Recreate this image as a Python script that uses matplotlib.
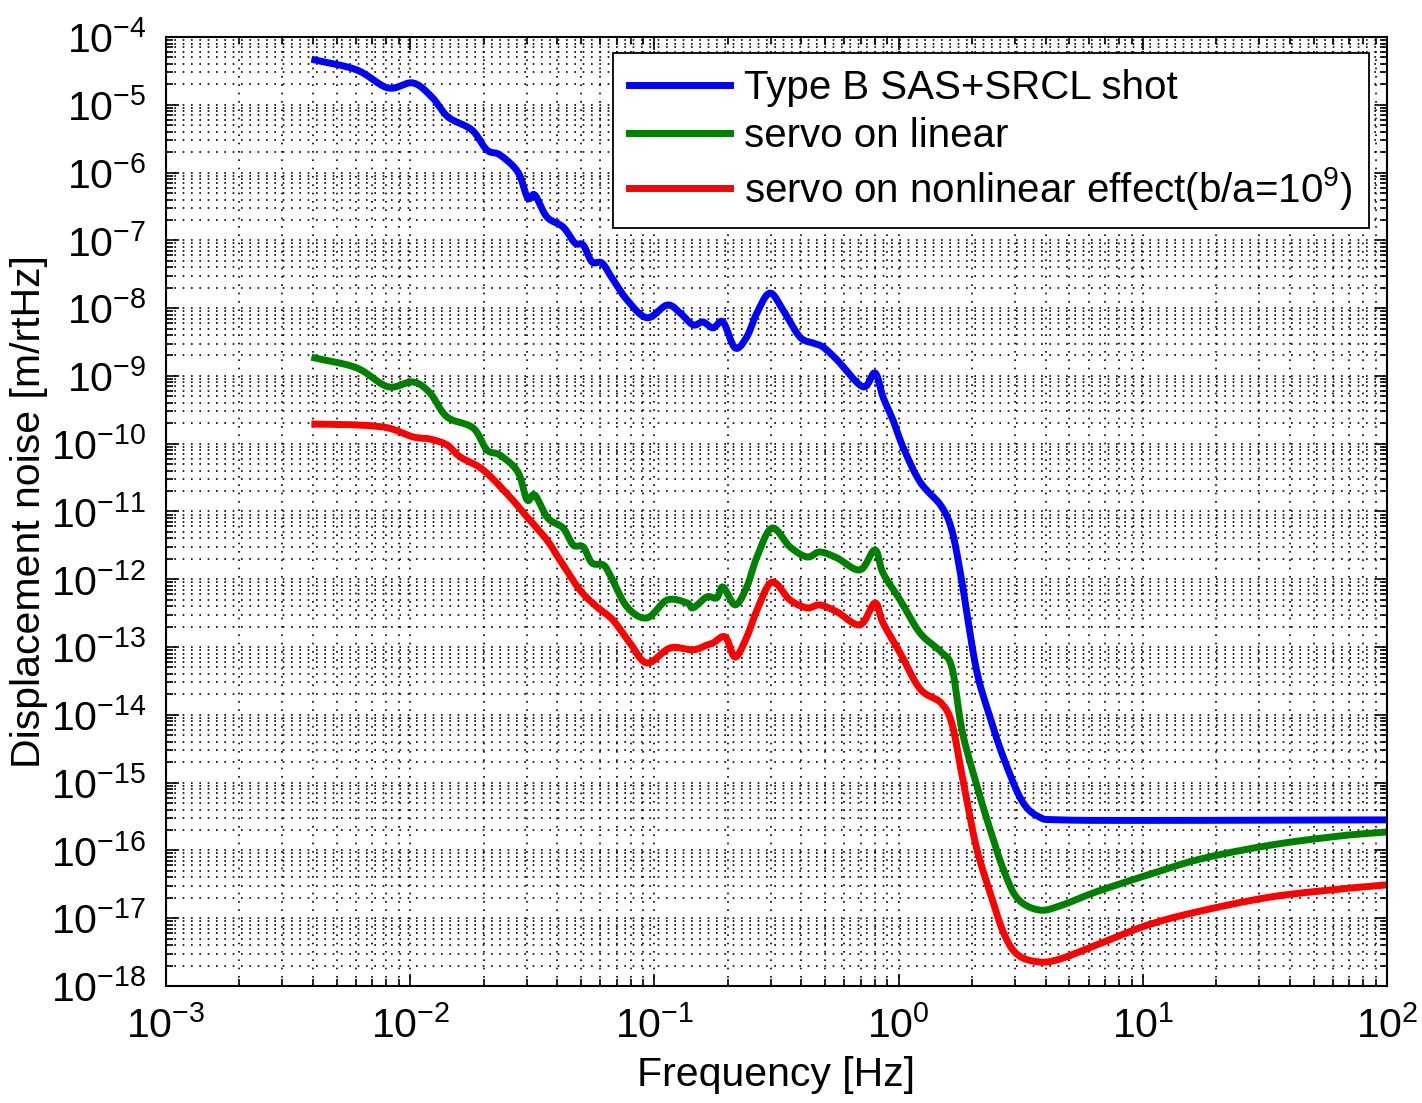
import numpy as np
import matplotlib
matplotlib.use('Agg')
import matplotlib.pyplot as plt
from matplotlib.ticker import LogLocator, NullFormatter

# values (Hz, m/rtHz)
freq_shot = [0.00407, 0.00605, 0.00811, 0.01026, 0.01227, 0.01429, 0.0179, 0.0206, 0.0233,
             0.0276, 0.0303, 0.0324, 0.0363, 0.0423, 0.0473, 0.0511, 0.0555, 0.0610, 0.0670,
             0.0773, 0.0933, 0.1127, 0.1274, 0.144, 0.158, 0.174, 0.191, 0.214, 0.239, 0.263,
             0.297, 0.336, 0.394, 0.446, 0.490, 0.560, 0.714, 0.800, 0.863, 0.948, 1.042,
             1.224, 1.492, 1.655, 1.820, 2.076, 2.366, 2.70, 3.20, 3.76, 4.58, 10.7, 100.0]
noise_shot = [4.58e-5, 3.26e-5, 1.77e-5, 2.10e-5, 1.30e-5, 6.6e-6, 4.25e-6, 2.15e-6, 1.82e-6,
              1.02e-6, 4.2e-7, 4.67e-7, 2.21e-7, 1.57e-7, 9.1e-8, 8.55e-8, 4.8e-8, 4.63e-8, 2.79e-8,
              1.32e-8, 7.2e-9, 1.11e-8, 8.5e-9, 5.65e-9, 6.25e-9, 5.1e-9, 6.25e-9, 2.58e-9, 3.76e-9, 8.5e-9,
              1.67e-8, 9.4e-9, 3.76e-9, 3.06e-9, 2.67e-9, 1.72e-9, 6.9e-10, 1.11e-9, 4.9e-10, 2.24e-10, 8.95e-11,
              2.73e-11, 1.21e-11, 5.16e-12, 8.8e-13, 4.9e-14, 9.3e-15, 2.24e-15, 5.37e-16, 3.12e-16, 2.82e-16, 2.77e-16, 2.82e-16]

freq_lin = [0.00407, 0.00605, 0.00811, 0.01026, 0.01205, 0.01415, 0.0181, 0.0206, 0.0233,
            0.0276, 0.0301, 0.0324, 0.0366, 0.0423, 0.0465, 0.0511, 0.0555, 0.0617, 0.0658,
            0.0773, 0.0933, 0.1127, 0.136, 0.144, 0.164, 0.180, 0.191, 0.214, 0.239, 0.263,
            0.303, 0.359, 0.422, 0.476, 0.560, 0.695, 0.800, 0.863, 1.014, 1.224, 1.492,
            1.655, 1.820, 2.076, 2.366, 2.70, 3.08, 3.76, 4.58, 6.43, 10.5, 17.3, 33.5, 64.8, 100.0]
noise_lin = [1.84e-9, 1.31e-9, 6.9e-10, 8.15e-10, 5.6e-10, 2.48e-10, 1.71e-10, 8.1e-11, 6.8e-11,
             3.83e-11, 1.48e-11, 1.75e-11, 8.0e-12, 5.7e-12, 3.2e-12, 3.0e-12, 1.74e-12, 1.63e-12, 1.16e-12,
             3.9e-13, 2.69e-13, 4.95e-13, 4.48e-13, 3.78e-13, 5.5e-13, 5.3e-13, 7.7e-13, 4.18e-13, 7.7e-13, 2.13e-12,
             5.7e-12, 3.0e-12, 2.13e-12, 2.53e-12, 2.06e-12, 1.37e-12, 2.71e-12, 1.24e-12, 4.95e-13, 1.61e-13, 8.5e-14,
             4.9e-14, 5.8e-15, 9.9e-16, 2.07e-16, 4.98e-17, 1.92e-17, 1.32e-17, 1.52e-17, 2.44e-17, 4.35e-17, 7.5e-17, 1.2e-16, 1.64e-16, 1.87e-16]

freq_nl = [0.00407, 0.00605, 0.00811, 0.01026, 0.01205, 0.01415, 0.016, 0.0199, 0.0256,
           0.0301, 0.0363, 0.0410, 0.0495, 0.0582, 0.0676, 0.0794, 0.0933, 0.116, 0.144,
           0.164, 0.174, 0.195, 0.214, 0.239, 0.263, 0.303, 0.359, 0.422, 0.476, 0.560,
           0.695, 0.800, 0.863, 1.014, 1.224, 1.492, 1.655, 1.820, 2.076, 2.366, 2.70,
           3.08, 3.76, 4.58, 6.43, 10.5, 17.3, 33.5, 64.8, 100.0]
noise_nl = [1.95e-10, 1.89e-10, 1.71e-10, 1.26e-10, 1.17e-10, 9.6e-11, 6.4e-11, 4.1e-11, 1.64e-11,
            8.3e-12, 3.8e-12, 1.93e-12, 6.97e-13, 3.9e-13, 2.51e-13, 1.15e-13, 5.8e-14, 9.7e-14, 9.1e-14,
            1.07e-13, 1.15e-13, 1.41e-13, 7.1e-14, 1.41e-13, 3.5e-13, 9.1e-13, 4.95e-13, 3.78e-13, 4.18e-13, 3.3e-13,
            2.12e-13, 4.48e-13, 2.27e-13, 8.2e-14, 2.41e-14, 1.5e-14, 7.3e-15, 1.26e-15, 1.16e-16, 2.44e-17, 5.9e-18,
            2.87e-18, 2.26e-18, 2.5e-18, 4.0e-18, 7.96e-18, 1.28e-17, 2.06e-17, 2.7e-17, 3.1e-17]

labels = ['Type B SAS+SRCL shot', 'servo on linear', 'servo on nonlinear effect(b/a=10$^9$)']
colors = ['#0000ff', '#008000', '#ff0000']


def smooth_loglog(f, v, n=8):
    # Catmull-Rom through the read points, in log-log space, just to round the corners
    lx, ly = np.log10(f), np.log10(v)
    px = np.concatenate([[2 * lx[0] - lx[1]], lx, [2 * lx[-1] - lx[-2]]])
    py = np.concatenate([[2 * ly[0] - ly[1]], ly, [2 * ly[-1] - ly[-2]]])
    xs, ys = [], []
    t = np.linspace(0, 1, n, endpoint=False)
    for i in range(1, len(px) - 2):
        for p, out in ((px, xs), (py, ys)):
            p0, p1, p2, p3 = p[i - 1], p[i], p[i + 1], p[i + 2]
            out.extend(0.5 * (2 * p1 + (-p0 + p2) * t + (2 * p0 - 5 * p1 + 4 * p2 - p3) * t ** 2
                              + (-p0 + 3 * p1 - 3 * p2 + p3) * t ** 3))
    xs.append(lx[-1])
    ys.append(ly[-1])
    return 10 ** np.array(xs), 10 ** np.array(ys)


plt.rcParams['font.family'] = ['Liberation Sans', 'DejaVu Sans']
plt.rcParams['mathtext.fontset'] = 'custom'
plt.rcParams['mathtext.rm'] = 'Liberation Sans'
plt.rcParams['mathtext.it'] = 'Liberation Sans'
plt.rcParams['mathtext.default'] = 'regular'
plt.rcParams['font.size'] = 29.5

fig = plt.figure(figsize=(14.22, 11.03), dpi=100)
ax = fig.add_axes([0.1167, 0.1061, 0.8587, 0.8604])

series = [(freq_shot, noise_shot), (freq_lin, noise_lin), (freq_nl, noise_nl)]
for (f, v), c, lab in zip(series, colors, labels):
    xs, ys = smooth_loglog(f, v)
    ax.loglog(xs, ys, color=c, lw=5, label=lab, solid_joinstyle='round')

ax.set_xlim(1e-3, 1e2)
ax.set_ylim(1e-18, 1e-4)
ax.xaxis.set_major_locator(LogLocator(base=10, numticks=20))
ax.yaxis.set_major_locator(LogLocator(base=10, numticks=20))
ax.xaxis.set_minor_locator(LogLocator(base=10, subs=np.arange(2, 10), numticks=20))
ax.yaxis.set_minor_locator(LogLocator(base=10, subs=np.arange(2, 10), numticks=20))
ax.xaxis.set_minor_formatter(NullFormatter())
ax.yaxis.set_minor_formatter(NullFormatter())

ax.grid(True, which='both', color='k', linestyle=(0, (1, 4)), linewidth=1.2)
ax.tick_params(which='both', direction='in', top=True, right=True, width=1.2)
ax.tick_params(which='major', length=9)
ax.tick_params(which='minor', length=5)
ax.tick_params(axis='x', pad=14)
ax.tick_params(axis='y', pad=14)
for s in ax.spines.values():
    s.set_linewidth(1.5)

ax.set_xlabel('Frequency [Hz]', labelpad=8)
ax.set_ylabel('Displacement noise [m/rtHz]', labelpad=2)

leg = ax.legend(loc='upper right', bbox_to_anchor=(0.985, 0.983), fancybox=False,
                edgecolor='k', framealpha=1, handlelength=2.5, handletextpad=0.35,
                labelspacing=0.25, borderpad=0.4, borderaxespad=0, fontsize=29)
leg.get_frame().set_linewidth(1.3)

plt.savefig('out.png', dpi=100)
